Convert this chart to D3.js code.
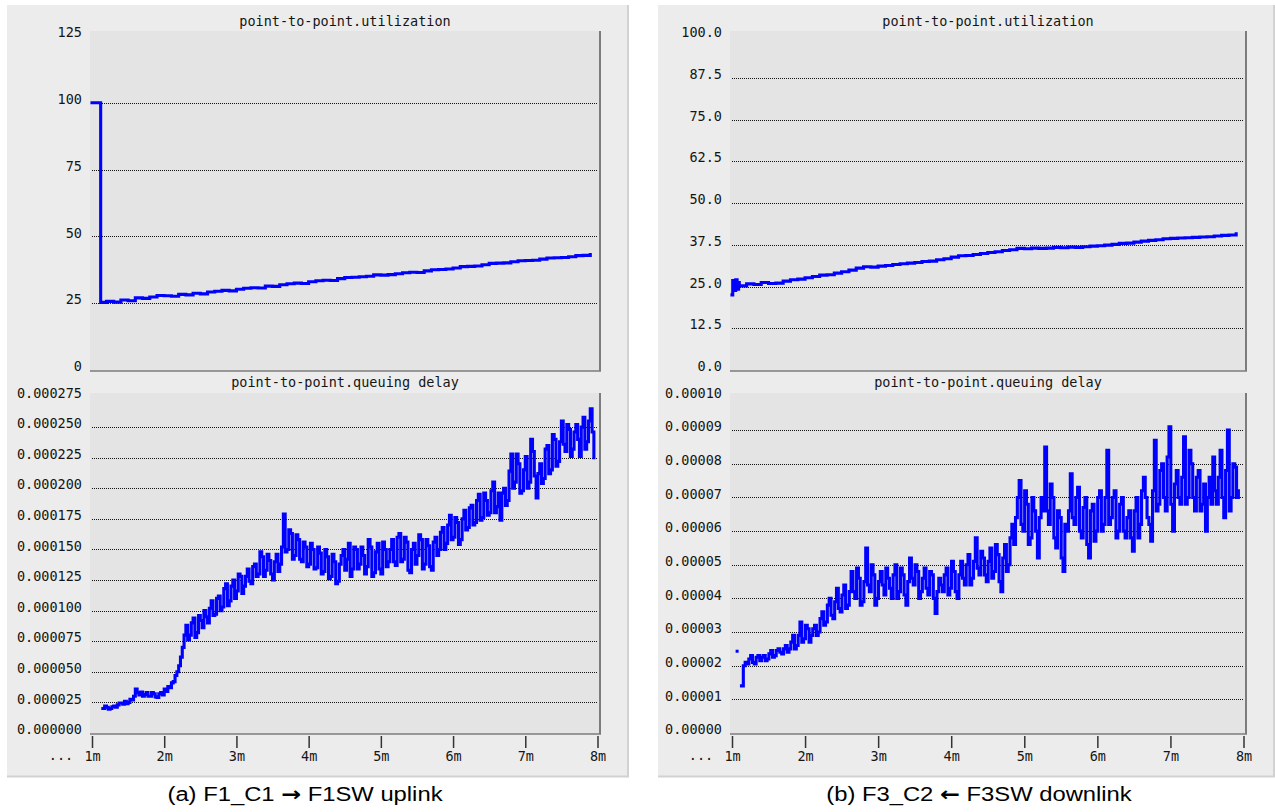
<!DOCTYPE html>
<html>
<head>
<meta charset="utf-8">
<script src="https://cdn.jsdelivr.net/npm/d3@7/dist/d3.min.js"></script>
<style>
body { margin: 0; background: #fff; }
.mono { font-family: "DejaVu Sans Mono", monospace; font-size: 13.5px; fill: #151515; }
.cap { font-family: "Liberation Sans", Arial, sans-serif; font-size: 20px; fill: #000; }
</style>
</head>
<body>
<svg id="chart" width="1275" height="812"></svg>
<script>
// x axis (minutes of simulation time)
var minuteTicks = [1, 2, 3, 4, 5, 6, 7, 8];
var minuteLabels = ["1m", "2m", "3m", "4m", "5m", "6m", "7m", "8m"];

// y ticks
var utilATicks = [0, 25, 50, 75, 100, 125];
var utilBTicks = [0, 12.5, 25, 37.5, 50, 62.5, 75, 87.5, 100];
var delayATicks = [0, 25, 50, 75, 100, 125, 150, 175, 200, 225, 250, 275]; // microseconds
var delayBTicks = [0, 10, 20, 30, 40, 50, 60, 70, 80, 90, 100];            // microseconds

var captionA = "(a) F1_C1 \u2192 F1SW uplink";
var captionB = "(b) F3_C2 \u2190 F3SW downlink";

// utilization (%) F1_C1 -> F1SW
var utilAHead = [[1.0, 100], [1.12, 100], [1.12, 25.3]];
var utilAStart = 1.2, utilAStep = 0.1;
var utilA = [25.7, 25.4, 26.2, 25.9, 27.0, 26.8, 27.3, 27.9, 27.8, 27.6,
             28.3, 28.1, 28.7, 28.5, 29.2, 29.5, 29.8, 29.6, 30.2, 30.6,
             30.8, 30.7, 31.4, 31.3, 31.9, 32.3, 32.5, 32.4, 33.0, 33.4,
             33.6, 33.5, 34.2, 34.6, 34.7, 34.9, 35.1, 35.6, 35.5, 35.7,
             36.0, 36.4, 36.6, 36.5, 37.1, 37.5, 37.6, 37.8, 38.2, 38.7,
             38.8, 38.9, 39.4, 39.9, 40.0, 40.1, 40.5, 40.9, 41.0, 41.1,
             41.5, 41.9, 42.0, 42.1, 42.4, 42.8, 42.9, 43.2];

// utilization (%) F3SW -> F3_C2
var utilBHead = [[1.0, 22.5], [1.01, 26.8], [1.03, 23.8], [1.05, 27.0], [1.07, 24.2], [1.09, 26.2]];
var utilBStart = 1.1, utilBStep = 0.1;
var utilB = [25.2, 25.8, 25.6, 26.2, 25.9, 26.0, 26.6, 27.0, 27.2, 27.6,
             28.0, 28.4, 28.5, 29.0, 29.4, 29.9, 30.5, 30.9, 30.8, 31.1,
             31.3, 31.6, 31.8, 32.0, 32.2, 32.5, 32.6, 33.0, 33.3, 33.8,
             34.2, 34.3, 34.6, 34.9, 35.2, 35.4, 35.8, 36.0, 36.4, 36.3,
             36.5, 36.4, 36.5, 36.7, 36.6, 36.8, 36.7, 36.9, 37.1, 37.2,
             37.4, 37.6, 37.9, 38.0, 38.3, 38.6, 38.8, 39.0, 39.3, 39.4,
             39.5, 39.6, 39.7, 39.8, 39.9, 40.1, 40.3, 40.4, 40.8];

// queuing delay (microseconds): samples every 3 s, plus the samples in between
var delayAStart = 1.15, delayAStep = 0.05;
var delayA = [20, 21, 20, 22, 23, 24.5, 26, 25, 27, 36,
              31, 30, 33, 30, 32, 29, 33, 36, 38, 41,
              47, 55, 70, 88, 80, 94, 82, 92, 100, 90,
              108, 97, 112, 103, 122, 108, 125, 116, 128, 120,
              134, 122, 138, 130, 144, 133, 141, 125, 146, 138,
              179, 150, 163, 145, 158, 140, 152, 138, 150, 135,
              147, 132, 144, 128, 140, 124, 145, 133, 155, 134,
              150, 138, 145, 136, 152, 131, 155, 130, 150, 140,
              158, 137, 163, 142, 156, 131, 155, 145, 158, 138,
              153, 133, 160, 150, 168, 155, 178, 160, 172, 158,
              182, 168, 186, 172, 195, 176, 190, 180, 205, 185,
              174, 200, 190, 228, 205, 220, 198, 226, 205, 230,
              192, 220, 208, 235, 215, 240, 222, 255, 230, 248,
              232, 252, 226, 258, 238, 265, 225];
var delayAMid = [22, 19.5, 21.5, 21, 24.5, 23.5, 24, 27.5, 30, 33,
                 33.5, 31.5, 30, 33, 29.5, 32, 31, 34, 37, 42,
                 50, 62, 80, 76, 90, 78, 96, 86, 95, 102,
                 96, 110, 100, 118, 104, 120, 110, 130, 114, 128,
                 124, 136, 128, 148, 128, 146, 130, 140, 132, 152,
                 148, 166, 142, 162, 142, 156, 136, 155, 134, 152,
                 130, 150, 126, 146, 122, 138, 150, 142, 128, 152,
                 134, 152, 130, 158, 128, 148, 134, 156, 136, 150,
                 140, 160, 140, 160, 133, 150, 138, 162, 134, 158,
                 136, 156, 145, 164, 150, 170, 158, 176, 154, 175,
                 166, 184, 170, 190, 174, 196, 178, 198, 180, 196,
                 196, 186, 214, 200, 228, 196, 215, 200, 240, 210,
                 212, 204, 232, 212, 244, 218, 238, 236, 252, 226,
                 246, 240, 250, 232, 255, 246];

var delayBStart = 1.13, delayBStep = 0.05;
var delayB = [14, 21, 22, 21, 22.5, 21.5, 23, 22, 24.5, 23,
              25, 23.5, 26, 25, 29, 26, 33, 28, 31, 29,
              32, 30, 36, 33, 40, 34, 43, 36, 44, 38,
              48, 40, 46, 39, 55, 42, 47, 40, 48, 41,
              46, 40, 50, 42, 47, 38, 52, 44, 48, 42,
              49, 41, 47, 35.5, 46, 42, 49, 43, 48, 40,
              51, 44, 53, 46, 58, 47, 52, 45, 55, 48,
              53, 42, 56, 50, 62, 64, 75, 60, 68, 58,
              66, 52, 70, 85, 62, 70, 55, 64, 48, 60,
              77, 62, 73, 58, 70, 52, 68, 60, 72, 62,
              84, 64, 72, 60, 70, 58, 66, 54, 70, 62,
              76, 64, 57, 87, 68, 80, 66, 91, 60, 78,
              68, 88, 70, 80, 66, 78, 68, 60, 76, 82,
              68, 84, 64, 90, 70, 79, 72];
var delayBMid = [20, 20.5, 23, 20.5, 23, 22.5, 21.5, 23.5, 22.5, 24.5,
                 24, 25, 24, 27, 25, 29, 27, 32, 27, 31,
                 29, 34, 32, 38, 35, 39, 37, 41, 37, 42,
                 42, 49, 38, 45, 44, 50, 38, 45, 44, 49,
                 43, 47, 40, 49, 41, 45, 46, 50, 40, 46,
                 43, 48, 40, 42, 44, 47, 41, 51, 42, 47,
                 46, 50, 44, 51, 49, 54, 47, 51, 46, 56,
                 45, 52, 48, 58, 56, 70, 62, 72, 56, 70,
                 60, 64, 66, 66, 74, 58, 66, 52, 62, 66,
                 64, 70, 60, 67, 56, 66, 57, 70, 60, 70,
                 62, 70, 58, 68, 60, 64, 58, 66, 58, 72,
                 70, 62, 72, 66, 78, 70, 82, 68, 74, 70,
                 76, 68, 84, 70, 76, 66, 74, 70, 68, 72,
                 76, 70, 78, 66, 80, 70];
var delayBDots = [[1.07, 24.3]];

function series(start, step, vals, mids) {
    var out = [];
    vals.forEach(function (v, i) {
        out.push([start + i * step, v]);
        if (mids && i < mids.length) out.push([start + (i + 0.5) * step, mids[i]]);
    });
    return out;
}

var panels = [
    {left: 7, right: 629, plotL: 90, plotR: 600, capX: 305, caption: captionA,
     util: utilAHead.concat(series(utilAStart, utilAStep, utilA)), utilMax: 125, utilTicks: utilATicks,
     utilFmt: function (d) { return String(d); },
     delay: series(delayAStart, delayAStep, delayA, delayAMid), delayMax: 275, delayTicks: delayATicks,
     delayFmt: function (d) { return (d / 1e6).toFixed(6); }, dots: []},
    {left: 658, right: 1275, plotL: 730, plotR: 1246, capX: 979, caption: captionB,
     util: utilBHead.concat(series(utilBStart, utilBStep, utilB)), utilMax: 100, utilTicks: utilBTicks,
     utilFmt: function (d) { return d.toFixed(1); },
     delay: series(delayBStart, delayBStep, delayB, delayBMid), delayMax: 100, delayTicks: delayBTicks,
     delayFmt: function (d) { return (d / 1e6).toFixed(5); }, dots: delayBDots}
];

var topBox = {y0: 31, y1: 371, dataTop: 36, titleY: 25.5, title: "point-to-point.utilization"};
var botBox = {y0: 393, y1: 734, dataTop: 396.5, titleY: 387, title: "point-to-point.queuing delay"};

var svg = d3.select("#chart");

function drawPlot(p, box, data, maxV, ticks, fmt, dots) {
    var g = svg.append("g");
    var x = d3.scaleLinear().domain([1, 8]).range([p.plotL + 2, p.plotR - 2.5]);
    var y = d3.scaleLinear().domain([0, maxV]).range([box.y1 - 1, box.dataTop]);

    g.append("rect")
        .attr("x", p.plotL).attr("y", box.y0)
        .attr("width", p.plotR - p.plotL).attr("height", box.y1 - box.y0)
        .style("fill", "#e4e4e4");

    g.append("text")
        .attr("class", "mono")
        .attr("x", (p.plotL + p.plotR) / 2).attr("y", box.titleY)
        .attr("text-anchor", "middle")
        .text(box.title);

    // dotted grid, skipping the bottom and top ticks
    g.selectAll(".grid")
        .data(ticks.slice(1, ticks.length - 1))
        .enter()
        .append("line")
        .attr("x1", p.plotL + 2).attr("x2", p.plotR - 2)
        .attr("y1", function (d) { return Math.round(y(d)) + 0.5; })
        .attr("y2", function (d) { return Math.round(y(d)) + 0.5; })
        .style("stroke", "#111")
        .style("stroke-width", 1)
        .style("stroke-dasharray", "1,1")
        .style("shape-rendering", "crispEdges");

    var yAxis = d3.axisLeft(y).tickValues(ticks).tickFormat(fmt).tickSize(0).tickPadding(8);
    var ya = g.append("g").attr("transform", "translate(" + p.plotL + ",0)").call(yAxis);
    ya.select(".domain").remove();
    ya.attr("font-family", null).attr("font-size", null);
    ya.selectAll("text").attr("class", "mono").attr("dy", "0.05em");

    // frame edges
    g.append("line")
        .attr("x1", p.plotR).attr("x2", p.plotR).attr("y1", box.y0).attr("y2", box.y1)
        .style("stroke", "#7c7c7c").style("stroke-width", 2);
    g.append("line")
        .attr("x1", p.plotL).attr("x2", p.plotR + 1).attr("y1", box.y1).attr("y2", box.y1)
        .style("stroke", "#7c7c7c").style("stroke-width", 1.5);

    // sample-and-hold trace
    var line = d3.line()
        .curve(d3.curveStepAfter)
        .x(function (d) { return x(d[0]); })
        .y(function (d) { return y(d[1]); });

    g.append("path")
        .datum(data)
        .attr("d", line)
        .style("fill", "none")
        .style("stroke", "#0000ff")
        .style("stroke-width", 3.1)
        .style("stroke-linejoin", "miter")
        .style("stroke-linecap", "square");

    g.selectAll(".dot")
        .data(dots)
        .enter()
        .append("rect")
        .attr("x", function (d) { return x(d[0]) - 1.5; })
        .attr("y", function (d) { return y(d[1]) - 1.5; })
        .attr("width", 3).attr("height", 3)
        .style("fill", "#0000ff");

    return x;
}

panels.forEach(function (p) {
    svg.append("rect")
        .attr("x", p.left).attr("y", 5)
        .attr("width", p.right - p.left).attr("height", 772)
        .style("fill", "#ececec");
    svg.append("line")
        .attr("x1", p.right - 1).attr("x2", p.right - 1).attr("y1", 5).attr("y2", 777)
        .style("stroke", "#d2d2d2").style("stroke-width", 2);
    svg.append("line")
        .attr("x1", p.left).attr("x2", p.right).attr("y1", 776.5).attr("y2", 776.5)
        .style("stroke", "#d2d2d2").style("stroke-width", 2);

    drawPlot(p, topBox, p.util, p.utilMax, p.utilTicks, p.utilFmt, []);
    var x = drawPlot(p, botBox, p.delay, p.delayMax, p.delayTicks, p.delayFmt, p.dots);

    var xAxis = d3.axisBottom(x)
        .tickValues(minuteTicks)
        .tickFormat(function (d, i) { return minuteLabels[i]; })
        .tickSize(12)
        .tickPadding(3);
    var xa = svg.append("g").attr("transform", "translate(0,736)").call(xAxis);
    xa.select(".domain").remove();
    xa.attr("font-family", null).attr("font-size", null);
    xa.selectAll("text").attr("class", "mono");
    xa.selectAll("line").style("stroke", "#333").style("stroke-width", 1.5);

    svg.append("text")
        .attr("class", "mono")
        .attr("x", p.plotL - 29).attr("y", 760)
        .attr("text-anchor", "middle")
        .text("...");

    // caption, arrow drawn in a heavier face
    var parts = p.caption.split(/([\u2190\u2192])/);
    var cap = svg.append("text")
        .attr("class", "cap")
        .attr("text-anchor", "middle")
        .attr("transform", "translate(" + p.capX + ",801) scale(1.19,1)");
    cap.append("tspan").text(parts[0]);
    cap.append("tspan").style("font-family", "DejaVu Sans").style("font-weight", "bold").text(parts[1]);
    cap.append("tspan").text(parts[2]);
});
</script>
</body>
</html>
